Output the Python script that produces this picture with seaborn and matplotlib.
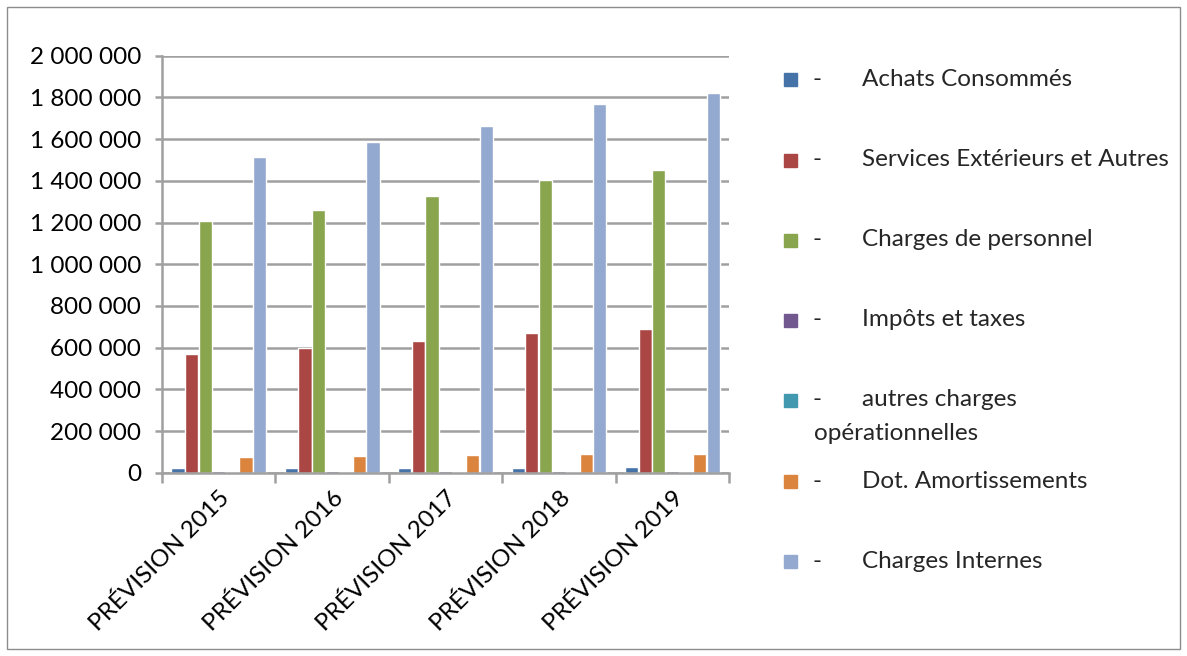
import matplotlib
matplotlib.use("Agg")
import matplotlib.pyplot as plt
from matplotlib.patches import Rectangle
from matplotlib.ticker import FuncFormatter, FixedLocator
import seaborn as sns
import pandas as pd

# Budget forecast by expense line (amounts in currency units)
categories = ["PRÉVISION 2015", "PRÉVISION 2016", "PRÉVISION 2017",
              "PRÉVISION 2018", "PRÉVISION 2019"]
series = ["Achats Consommés", "Services Extérieurs et Autres",
          "Charges de personnel", "Impôts et taxes",
          "autres charges opérationnelles", "Dot. Amortissements",
          "Charges Internes"]

achats = [22000, 23000, 24000, 25000, 26000]
services = [570000, 600000, 630000, 668000, 688000]
personnel = [1205000, 1262000, 1325000, 1405000, 1450000]
impots = [6000, 6000, 6000, 6000, 6000]
autres = [5000, 5000, 5000, 5000, 5000]
amortissements = [75000, 79000, 83000, 88000, 92000]
internes = [1515000, 1585000, 1665000, 1768000, 1822000]

values = [achats, services, personnel, impots, autres, amortissements, internes]
colors = ["#4572A7", "#AA4643", "#89A54E", "#71588F", "#4198AF",
          "#DB843D", "#93A9CF"]

rows = [(cat, name, v)
        for name, vals in zip(series, values)
        for cat, v in zip(categories, vals)]
df = pd.DataFrame(rows, columns=["Prévision", "Poste", "Montant"])

sns.set_theme(style="white")
plt.rcParams["font.family"] = ["Lato", "DejaVu Sans"]
FS = 17.5

fig = plt.figure(figsize=(11.87, 6.56), dpi=100)
ax = fig.add_axes([0.1365, 0.2794, 0.4777, 0.6357])

sns.barplot(data=df, x="Prévision", y="Montant", hue="Poste",
            hue_order=series, order=categories, palette=colors,
            width=0.84, gap=0.03, saturation=1, legend=False, ax=ax)

ax.set_xlim(-0.5, len(categories) - 0.5)
ax.set_ylim(0, 2000000)
ax.yaxis.set_major_locator(FixedLocator(range(0, 2000001, 200000)))
ax.yaxis.set_major_formatter(
    FuncFormatter(lambda v, _: f"{int(v):,}".replace(",", " ")))
ax.grid(axis="y", color="#a0a0a0", linewidth=1.8)
ax.set_axisbelow(True)
ax.set_xlabel("")
ax.set_ylabel("")

for side in ("top", "right"):
    ax.spines[side].set_visible(False)
for side in ("left", "bottom"):
    ax.spines[side].set_color("#a0a0a0")
    ax.spines[side].set_linewidth(1.8)

ax.tick_params(axis="y", left=True, length=5, width=1.8, color="#a0a0a0",
               pad=10, labelsize=FS, labelcolor="black")
ax.tick_params(axis="x", bottom=False, labelsize=FS, labelcolor="black",
               pad=4)
ax.set_xticks(range(len(categories)))
ax.set_xticklabels(categories, rotation=45, ha="right",
                   rotation_mode="anchor")
ax.set_xticks([i - 0.5 for i in range(len(categories) + 1)], minor=True)
ax.tick_params(axis="x", which="minor", bottom=True, length=7, width=1.8,
               color="#a0a0a0")

# Legend on the right, one entry per expense line
legend_y = [79, 160, 240, 320, 400, 481, 561]
H = 656.0
W = 1187.0
for name, col, y in zip(series, colors, legend_y):
    fig.patches.append(Rectangle((784 / W, 1 - (y + 7) / H), 13 / W, 13 / H,
                                 transform=fig.transFigure, color=col))
    fig.text(812 / W, 1 - y / H, "-", fontsize=FS, va="center", ha="left")
    if name == "autres charges opérationnelles":
        fig.text(862 / W, 1 - y / H, "autres charges", fontsize=FS,
                 va="center", ha="left")
        fig.text(814 / W, 1 - (y + 33) / H, "opérationnelles", fontsize=FS,
                 va="center", ha="left")
    else:
        fig.text(862 / W, 1 - y / H, name, fontsize=FS, va="center",
                 ha="left")

# Thin frame around the whole chart area
fig.patches.append(Rectangle((7 / W, 7 / H), 1 - 14 / W, 1 - 14 / H,
                             transform=fig.transFigure, fill=False,
                             edgecolor="#8c8c8c", linewidth=1))

fig.savefig("out.png", dpi=100)
